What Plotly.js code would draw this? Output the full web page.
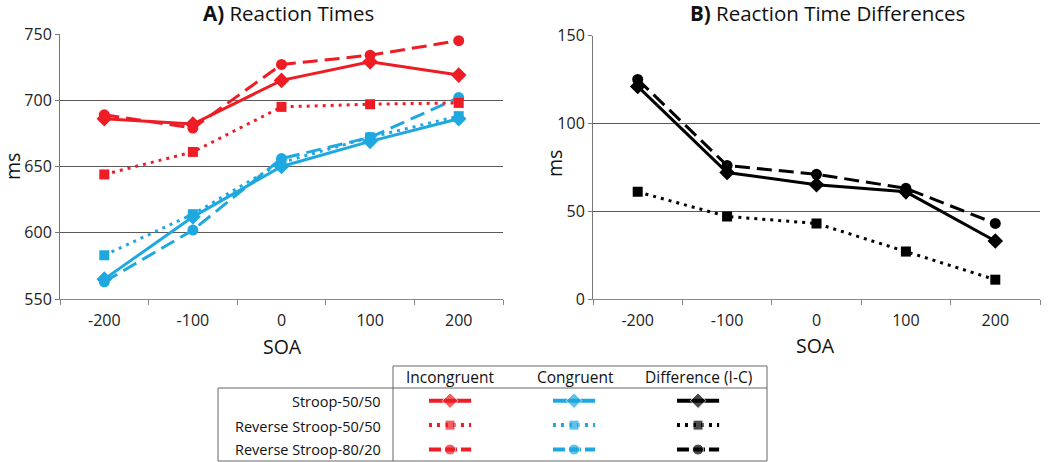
<!DOCTYPE html>
<html>
<head>
<meta charset="utf-8">
<script src="https://cdn.plot.ly/plotly-3.0.1.min.js"></script>
<style>html,body{margin:0;padding:0;background:#fff;}#chart{width:1050px;height:462px;}</style>
</head>
<body>
<div id="chart"></div>
<script>
// ---- data ----
const soa = ["-200", "-100", "0", "100", "200"];
// Panel A: reaction times (ms)
const stroopInc = [686, 682, 715, 729, 719];
const revStroop5050Inc = [644, 661, 695, 697, 698];
const revStroop8020Inc = [689, 679, 727, 734, 745];
const stroopCon = [565, 612, 650, 669, 686];
const revStroop5050Con = [583, 614, 653, 672, 688];
const revStroop8020Con = [563, 602, 656, 672, 702];
// Panel B: differences (I-C)
const stroopDiff = [121, 72, 65, 61, 33];
const revStroop5050Diff = [61, 47, 43, 27, 11];
const revStroop8020Diff = [125, 76, 71, 63, 43];
// Legend table
const rowLabels = ["Stroop-50/50", "Reverse Stroop-50/50", "Reverse Stroop-80/20"];
const colLabels = ["Incongruent", "Congruent", "Difference (I-C)"];

// ---- styles ----
const RED = "#ee1c25", BLUE = "#1fa8e0", BLACK = "#000000";
const colColors = [RED, BLUE, BLACK];
const rowStyle = [
  {dash: "solid", symbol: "diamond", size: 12},
  {dash: "3px,5px", symbol: "square", size: 10},
  {dash: "15px,7px", symbol: "circle", size: 11}
];
const FONT = "Open Sans, Noto Sans, sans-serif";

function tr(y, color, row, xa, ya) {
  const st = rowStyle[row];
  return {
    x: soa, y: y, xaxis: xa, yaxis: ya, type: "scatter", mode: "lines+markers",
    line: {color: color, width: 3, dash: st.dash},
    marker: {color: color, symbol: st.symbol, size: st.size},
    showlegend: false, hoverinfo: "skip"
  };
}

const data = [
  tr(revStroop5050Con, BLUE, 1, "x", "y"),
  tr(revStroop8020Con, BLUE, 2, "x", "y"),
  tr(stroopCon, BLUE, 0, "x", "y"),
  tr(revStroop5050Inc, RED, 1, "x", "y"),
  tr(revStroop8020Inc, RED, 2, "x", "y"),
  tr(stroopInc, RED, 0, "x", "y"),
  tr(revStroop5050Diff, BLACK, 1, "x2", "y2"),
  tr(revStroop8020Diff, BLACK, 2, "x2", "y2"),
  tr(stroopDiff, BLACK, 0, "x2", "y2")
];

// legend samples in the table (column index x, row index y)
for (let c = 0; c < colLabels.length; c++) {
  for (let r = 0; r < rowLabels.length; r++) {
    const st = rowStyle[r];
    data.push({
      x: [c - 0.17, c, c + 0.17], y: [r, r, r], xaxis: "x3", yaxis: "y3",
      type: "scatter", mode: "lines+markers",
      line: {color: colColors[c], width: 4, dash: r === 2 ? "12px,4px" : st.dash},
      marker: {color: colColors[c], symbol: st.symbol, size: [0, st.size, 0]},
      showlegend: false, hoverinfo: "skip"
    });
  }
}

const W = 1050, H = 462;
const px = v => v / W, py = v => 1 - v / H;

const xCommon = {
  type: "category", range: [-0.5, 4.5], tickson: "boundaries",
  ticks: "outside", ticklen: 5, tickcolor: "#888", tickwidth: 1,
  showline: true, linecolor: "#888", linewidth: 1, showgrid: false,
  tickfont: {family: FONT, size: 16, color: "#222"}, ticklabelstandoff: 7,
  fixedrange: true
};
const yCommon = {
  ticks: "outside", ticklen: 4, tickcolor: "#777", showline: true, linecolor: "#777", linewidth: 1,
  showgrid: true, gridcolor: "#5a5a5a", gridwidth: 1, zeroline: false, dtick: 50,
  tickfont: {family: FONT, size: 16, color: "#222"},
  fixedrange: true
};

const titleFont = {family: FONT, size: 20.5, color: "#111"};
const axFont = {family: FONT, size: 19.5, color: "#111"};
const annotations = [
  {text: "<b>A)</b> Reaction Times", x: px(288), y: py(13), xref: "paper", yref: "paper",
   showarrow: false, font: titleFont, xanchor: "center", yanchor: "middle"},
  {text: "<b>B)</b> Reaction Time Differences", x: px(827), y: py(13), xref: "paper", yref: "paper",
   showarrow: false, font: titleFont, xanchor: "center", yanchor: "middle"},
  {text: "ms", x: px(12), y: py(167), xref: "paper", yref: "paper", textangle: -90,
   showarrow: false, font: axFont, xanchor: "center", yanchor: "middle"},
  {text: "ms", x: px(554), y: py(164), xref: "paper", yref: "paper", textangle: -90,
   showarrow: false, font: axFont, xanchor: "center", yanchor: "middle"},
  {text: "SOA", x: px(282), y: py(346), xref: "paper", yref: "paper",
   showarrow: false, font: axFont, xanchor: "center", yanchor: "middle"},
  {text: "SOA", x: px(815), y: py(345), xref: "paper", yref: "paper",
   showarrow: false, font: axFont, xanchor: "center", yanchor: "middle"}
];
const headerX = [450, 575, 698];
const rowY = [401, 426, 449];
colLabels.forEach((t, i) => annotations.push({text: t, x: px(headerX[i]), y: py(377), xref: "paper", yref: "paper",
  showarrow: false, font: {family: FONT, size: 15.5, color: "#111"}, xanchor: "center", yanchor: "middle"}));
rowLabels.forEach((t, i) => annotations.push({text: t, x: px(383), y: py(rowY[i]), xref: "paper", yref: "paper",
  showarrow: false, font: {family: FONT, size: 14.5, color: "#111"}, xanchor: "right", yanchor: "middle"}));

const lineStyle = {color: "#666", width: 1};
const shapes = [
  {type: "line", xref: "paper", yref: "paper", x0: px(393), x1: px(767), y0: py(366), y1: py(366), line: lineStyle},
  {type: "line", xref: "paper", yref: "paper", x0: px(218), x1: px(767), y0: py(388), y1: py(388), line: lineStyle},
  {type: "line", xref: "paper", yref: "paper", x0: px(218), x1: px(767), y0: py(461), y1: py(461), line: lineStyle},
  {type: "line", xref: "paper", yref: "paper", x0: px(393), x1: px(393), y0: py(366), y1: py(461), line: lineStyle},
  {type: "line", xref: "paper", yref: "paper", x0: px(767), x1: px(767), y0: py(366), y1: py(461), line: lineStyle},
  {type: "line", xref: "paper", yref: "paper", x0: px(218), x1: px(218), y0: py(388), y1: py(461), line: lineStyle}
];

const layout = {
  width: W, height: H, margin: {l: 0, r: 0, t: 0, b: 0},
  paper_bgcolor: "#fff", plot_bgcolor: "rgba(0,0,0,0)",
  font: {family: FONT},
  xaxis: Object.assign({}, xCommon, {domain: [px(60), px(503)], anchor: "y"}),
  yaxis: Object.assign({}, yCommon, {domain: [py(299), py(34)], range: [550, 750], anchor: "x"}),
  xaxis2: Object.assign({}, xCommon, {domain: [px(593), px(1040)], anchor: "y2"}),
  yaxis2: Object.assign({}, yCommon, {domain: [py(299), py(35.5)], range: [0, 150], anchor: "x2"}),
  xaxis3: {domain: [px(393), px(767)], range: [-0.46, 2.556], visible: false, anchor: "y3", fixedrange: true},
  yaxis3: {domain: [py(461), py(388)], range: [2.47, -0.52], visible: false, anchor: "x3", fixedrange: true},
  annotations: annotations,
  shapes: shapes,
  showlegend: false
};

Plotly.newPlot("chart", data, layout, {displayModeBar: false, staticPlot: true});
</script>
</body>
</html>
